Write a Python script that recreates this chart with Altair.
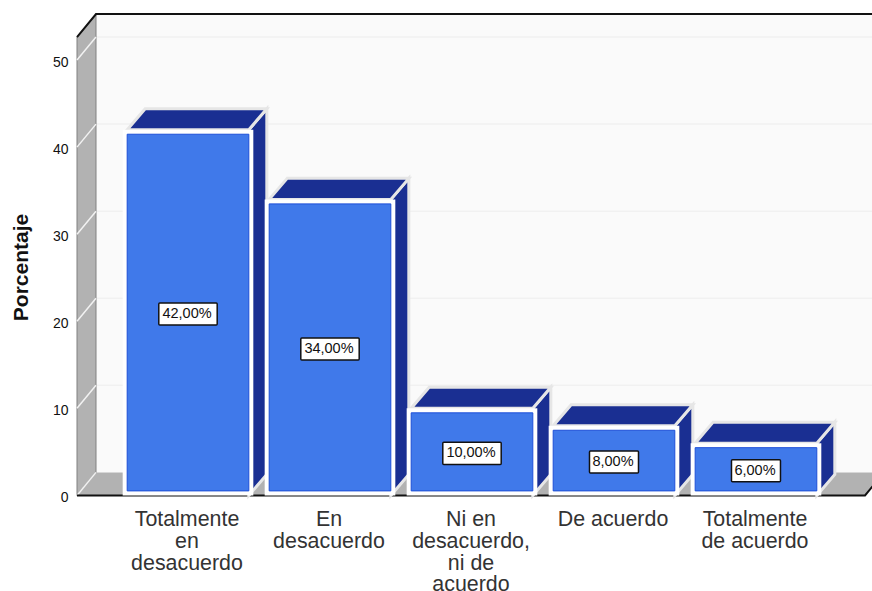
import altair as alt
import pandas as pd

# Survey responses, in percent
categories = ["Totalmente\nen\ndesacuerdo", "En\ndesacuerdo", "Ni en\ndesacuerdo,\nni de\nacuerdo",
              "De acuerdo", "Totalmente\nde acuerdo"]
values = [42, 34, 10, 8, 6]
value_labels = ["42,00%", "34,00%", "10,00%", "8,00%", "6,00%"]
y_ticks = [0, 10, 20, 30, 40, 50]

# Pseudo-3D geometry, in axis units (x: one category slot, y: percent)
PX_X = 142.0
PX_Y = 8.7
X_MIN, X_MAX = -0.7817, 4.817
Y_MIN, Y_MAX = -10.98, 56.90
WALL_TOP = 52.64
WALL_DX, WALL_DY = 19 / PX_X, 23 / PX_Y
FLOOR_END = 4.768
BAR_HALF = 0.46
INSET_X, INSET_Y = 4.5 / PX_X, 4.5 / PX_Y
BAR_DX, BAR_DY = 18 / PX_X, 21 / PX_Y

GRAY = "#b2b2b2"
WALL = "#fafafa"
NAVY = "#1a2f92"
BLUE = "#4079ea"
EDGE = "#e6e6e6"

x_scale = alt.Scale(domain=[X_MIN, X_MAX], nice=False, zero=False)
y_scale = alt.Scale(domain=[Y_MIN, Y_MAX], nice=False, zero=False)

# Percent axis: labels and title only, since the walls carry the gridlines
y_axis = alt.Axis(
    values=y_ticks, grid=False, domain=False, ticks=False, labelPadding=9, labelOffset=2,
    labelFont="Liberation Sans", labelFontSize=14, labelColor="#111111",
    title="Porcentaje", titleFont="Liberation Sans", titleFontSize=21, titleFontWeight="bold",
    titleColor="#111111", titleX=-46, titleY=267, titleAngle=270, titleAlign="center",
)


def X(field="x"):
    return alt.X(field, type="quantitative", scale=x_scale, axis=None)


def Y(field="y"):
    return alt.Y(field, type="quantitative", scale=y_scale, axis=y_axis)


# Room behind the bars
back_wall = alt.Chart(pd.DataFrame([{
    "x": X_MIN + WALL_DX, "x2": X_MAX, "y": WALL_DY, "y2": WALL_TOP + WALL_DY}])
).mark_rect(color=WALL).encode(X(), x2="x2", y=Y(), y2="y2")

side_wall = alt.Chart(pd.DataFrame([
    {"x": X_MIN, "y": 0, "y2": WALL_TOP},
    {"x": X_MIN + WALL_DX, "y": WALL_DY, "y2": WALL_TOP + WALL_DY},
])).mark_area(color=GRAY, stroke="#808080", strokeWidth=1, orient="vertical").encode(X(), y=Y(), y2="y2")

floor = alt.Chart(pd.DataFrame([
    {"y": 0, "x": X_MIN, "x2": FLOOR_END},
    {"y": WALL_DY, "x": X_MIN + WALL_DX, "x2": FLOOR_END + WALL_DX},
])).mark_area(color=GRAY, orient="horizontal", clip=True).encode(X(), x2="x2", y=Y())

side_rows_grid = []
back_rows_grid = []
for tick in y_ticks:
    side_rows_grid.append({"tick": tick, "x": X_MIN, "y": tick})
    side_rows_grid.append({"tick": tick, "x": X_MIN + WALL_DX, "y": tick + WALL_DY})
    if tick > 0:
        back_rows_grid.append({"tick": tick, "x": X_MIN + WALL_DX, "y": tick + WALL_DY})
        back_rows_grid.append({"tick": tick, "x": X_MAX, "y": tick + WALL_DY})
back_grid = alt.Chart(pd.DataFrame(back_rows_grid)).mark_line(
    color="#f1f1f1", strokeWidth=1.5).encode(X(), Y(), detail="tick:N")
side_grid = alt.Chart(pd.DataFrame(side_rows_grid)).mark_line(
    color="#f2f2f2", strokeWidth=1.5).encode(X(), Y(), detail="tick:N")

# Heavy outline of the room
top_outline = alt.Chart(pd.DataFrame([
    {"x": X_MIN, "y": WALL_TOP},
    {"x": X_MIN + WALL_DX, "y": WALL_TOP + WALL_DY},
    {"x": X_MAX, "y": WALL_TOP + WALL_DY},
])).mark_line(color="#111111", strokeWidth=2).encode(X(), Y())
bottom_outline = alt.Chart(pd.DataFrame([
    {"x": X_MIN, "y": 0},
    {"x": FLOOR_END, "y": 0},
    {"x": FLOOR_END + WALL_DX, "y": WALL_DY},
])).mark_line(color="#111111", strokeWidth=2, clip=True).encode(X(), Y())

# Bar faces
top_rows, side_rows, front_rows = [], [], []
for i, (cat, v, lab) in enumerate(zip(categories, values, value_labels)):
    lo, hi = i - BAR_HALF + INSET_X, i + BAR_HALF - INSET_X
    top_rows.append({"bar": i, "y": v, "x": lo, "x2": hi})
    top_rows.append({"bar": i, "y": v + BAR_DY, "x": lo + BAR_DX, "x2": hi + BAR_DX})
    side_rows.append({"bar": i, "x": hi, "y": 0, "y2": v})
    side_rows.append({"bar": i, "x": hi + BAR_DX, "y": BAR_DY, "y2": v + BAR_DY})
    box_half = (len(lab) * 9.4 + 2) / 2 / PX_X
    mid = v / 2 - 1.5 / PX_Y
    front_rows.append({
        "bar": i, "x": i - BAR_HALF, "x2": i + BAR_HALF, "y": 0, "y2": v,
        "ix": lo, "ix2": hi, "iy": INSET_Y, "iy2": v - INSET_Y,
        "mid": mid, "label": lab, "category": cat,
        "cx": i - 1 / PX_X,
        "bx": i - box_half, "bx2": i + box_half,
        "by": mid - 11 / PX_Y, "by2": mid + 11 / PX_Y,
        "yc": -13.5 / PX_Y,
    })

top_face = alt.Chart(pd.DataFrame(top_rows)).mark_area(
    color=NAVY, stroke=EDGE, strokeWidth=3, orient="horizontal"
).encode(X(), x2="x2", y=Y(), detail="bar:N")
side_face = alt.Chart(pd.DataFrame(side_rows)).mark_area(
    color=NAVY, stroke=EDGE, strokeWidth=3, orient="vertical"
).encode(X(), y=Y(), y2="y2", detail="bar:N")

front = alt.Chart(pd.DataFrame(front_rows))
front_frame = front.mark_rect(color="white").encode(X(), x2="x2", y=Y(), y2="y2")
front_face = front.mark_rect(color=BLUE, stroke="#1d4fd8", strokeWidth=1).encode(
    X("ix"), x2="ix2", y=Y("iy"), y2="iy2")

label_box = front.mark_rect(
    color="white", stroke="#111111", strokeWidth=1.5, cornerRadius=1
).encode(X("bx"), x2="bx2", y=Y("by"), y2="by2")
label_text = front.mark_text(
    font="Liberation Sans", fontSize=14.5, color="#111111", baseline="middle"
).encode(X("cx"), Y("mid"), text="label:N")

category_text = front.mark_text(
    font="Liberation Sans", fontSize=21.4, color="#333333", baseline="top", lineBreak="\n", lineHeight=21.8
).encode(X("cx"), Y("yc"), text="category:N")

chart = alt.layer(
    back_wall, back_grid, floor, side_wall, side_grid, top_outline, bottom_outline,
    side_face, top_face, front_frame, front_face, label_box, label_text, category_text,
).properties(
    width=795, height=591, padding={"left": 77, "top": 0, "right": 0, "bottom": 0},
    autosize=alt.AutoSizeParams(type="none"), background="white",
).configure_view(stroke=None)

chart.save("out.html", embed_options={"renderer": "svg", "actions": False})
